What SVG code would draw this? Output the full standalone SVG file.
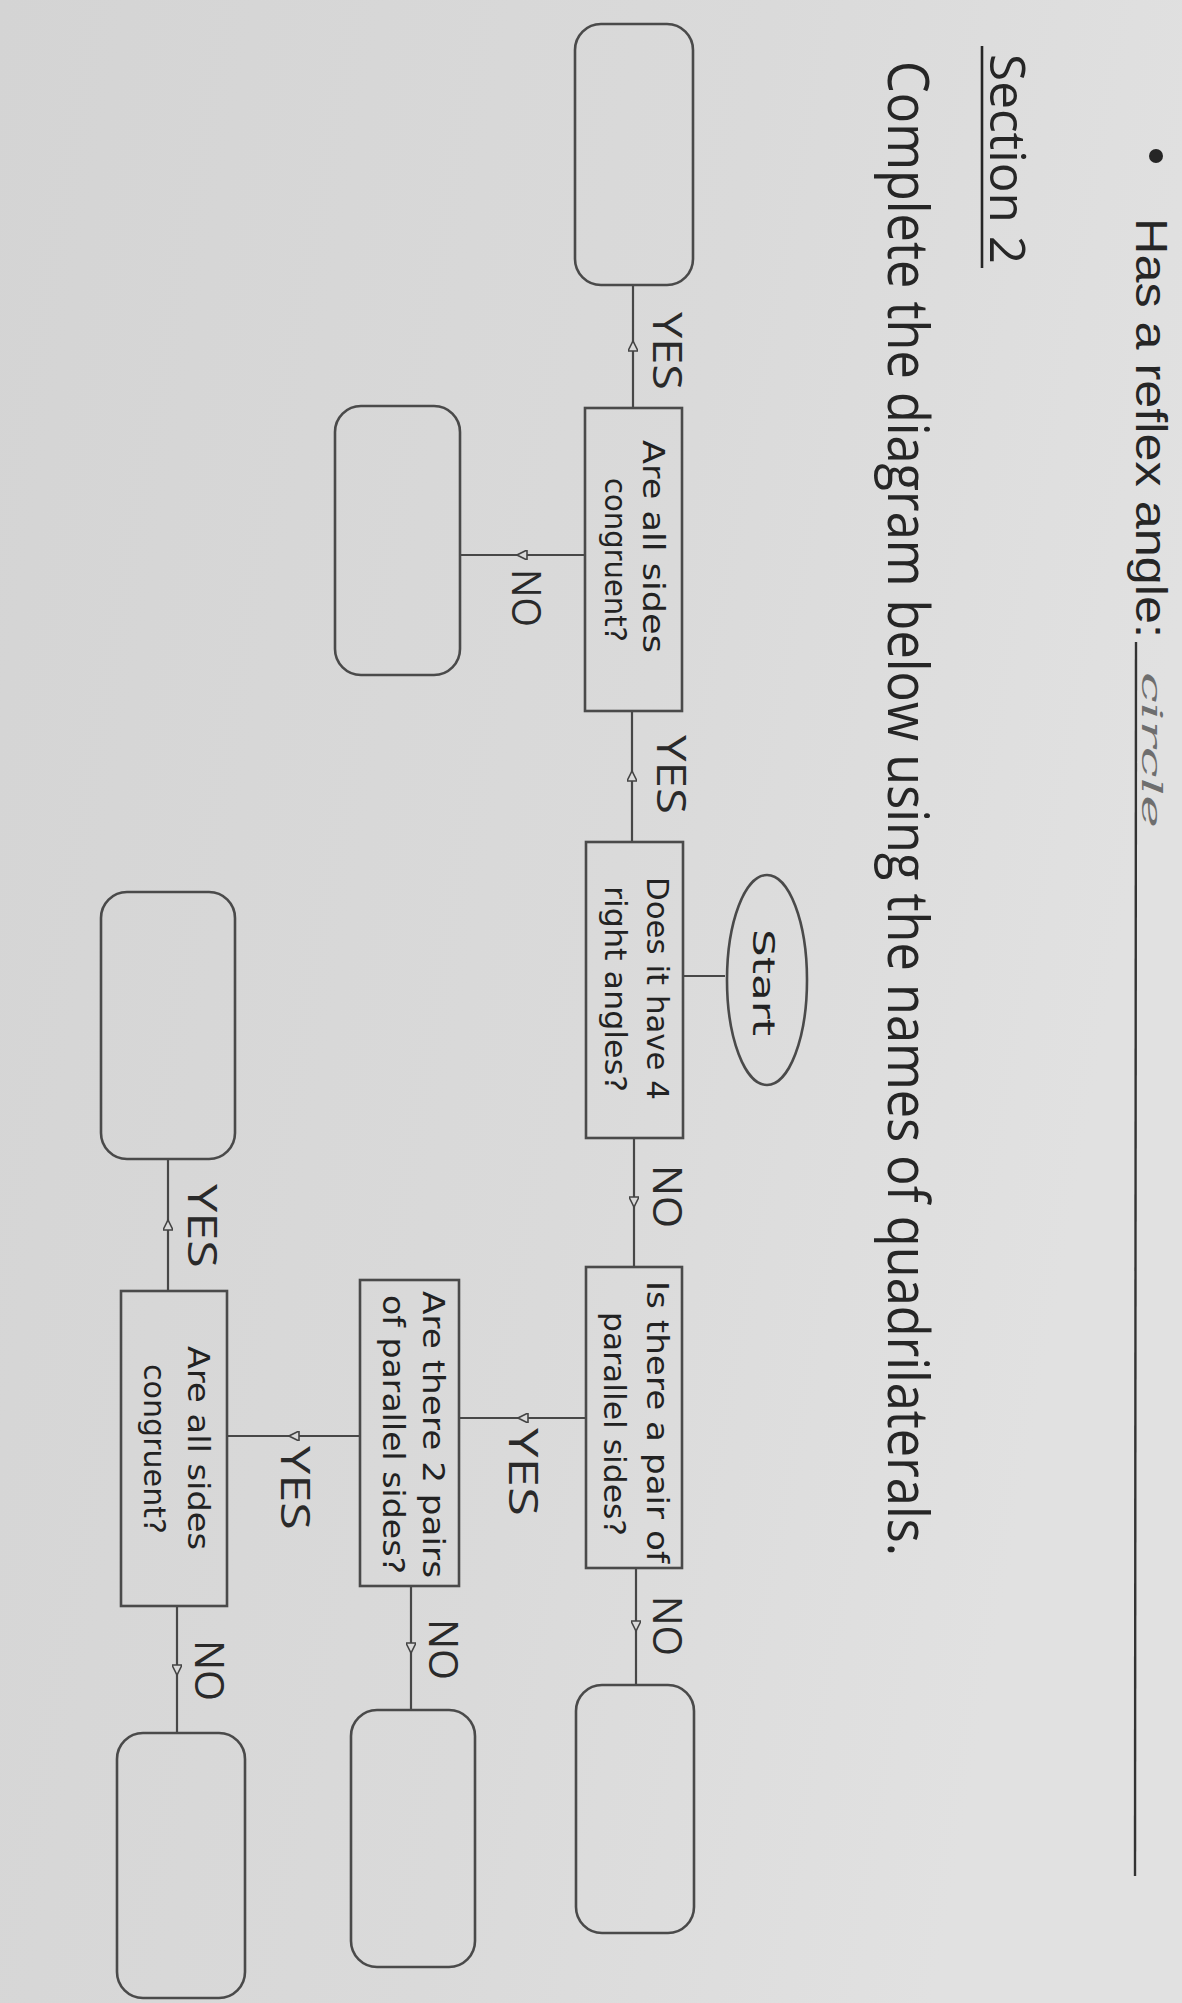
<svg xmlns="http://www.w3.org/2000/svg" width="1182" height="2003" viewBox="0 0 1182 2003">
  <defs>
    <linearGradient id="paper" x1="0" y1="0" x2="1" y2="0.3">
      <stop offset="0" stop-color="#d4d4d4"/>
      <stop offset="0.6" stop-color="#dadada"/>
      <stop offset="1" stop-color="#e1e1e1"/>
    </linearGradient>
    <marker id="tri" viewBox="0 0 10 10" refX="5" refY="5" markerWidth="13" markerHeight="10" markerUnits="userSpaceOnUse" orient="auto">
      <path d="M0,0 L10,5 L0,10 Z" fill="#dadada" stroke="#444" stroke-width="1.6"/>
    </marker>
    <style>
      .box { fill: none; stroke: #4a4a4a; stroke-width: 2.6; }
      .term { fill: none; stroke: #4a4a4a; stroke-width: 2.6; }
      .conn { fill: none; stroke: #474747; stroke-width: 2.2; marker-mid: url(#tri); }
      .plain { fill: none; stroke: #474747; stroke-width: 2.2; }
      .hdr { font-family: "Open Sans", "Liberation Sans", sans-serif; fill: #262626; }
      .q { font-family: "DejaVu Sans", "Noto Sans", sans-serif; font-size: 30px; fill: #222; }
      .lbl { font-family: "Open Sans", "Liberation Sans", sans-serif; font-size: 40px; fill: #2a2a2a; }
      .hand { font-family: "DejaVu Serif", serif; font-style: italic; font-size: 28px; fill: #6e6e6e; }
    </style>
  </defs>
  <rect x="0" y="0" width="1182" height="2003" fill="url(#paper)"/>

  <g transform="translate(1182 0) rotate(90)">
    <g id="header">
      <circle cx="156" cy="26" r="7" fill="#262626"/>
      <text x="218" y="46" font-family="Liberation Sans, Arial, sans-serif" font-size="44" fill="#262626" textLength="420" lengthAdjust="spacingAndGlyphs">Has a reflex angle:</text>
      <line x1="642" y1="46" x2="1876" y2="47" stroke="#333" stroke-width="2.4"/>
      <text class="hand" x="672" y="40" textLength="156" lengthAdjust="spacingAndGlyphs">circle</text>
      <text class="hdr" x="54" y="192" font-size="50" textLength="210" lengthAdjust="spacingAndGlyphs">Section 2</text>
      <line x1="46" y1="200" x2="268" y2="200" stroke="#262626" stroke-width="2.6"/>
      <text class="hdr" x="61" y="294" font-size="56" textLength="1495" lengthAdjust="spacingAndGlyphs">Complete the diagram below using the names of quadrilaterals.</text>
    </g>

    <g id="connectors">
      <path class="plain" d="M976,457 L976,499"/>
      <path class="conn" d="M842,550 L776,550 L711,550"/>
      <path class="conn" d="M408,549 L346,549 L285,549"/>
      <path class="conn" d="M555,597 L555,660 L555,722"/>
      <path class="conn" d="M1138,548 L1202,548 L1267,548"/>
      <path class="conn" d="M1568,546 L1626,546 L1685,546"/>
      <path class="conn" d="M1418,596 L1418,659 L1418,723"/>
      <path class="conn" d="M1586,771 L1648,771 L1710,771"/>
      <path class="conn" d="M1436,822 L1436,888 L1436,955"/>
      <path class="conn" d="M1606,1005 L1670,1005 L1733,1005"/>
      <path class="conn" d="M1291,1014 L1225,1014 L1159,1014"/>
      <text class="lbl" x="735" y="525" textLength="79" lengthAdjust="spacingAndGlyphs">YES</text>
      <text class="lbl" x="312" y="529" textLength="78" lengthAdjust="spacingAndGlyphs">YES</text>
      <text class="lbl" x="569" y="670" textLength="58" lengthAdjust="spacingAndGlyphs">NO</text>
      <text class="lbl" x="1165" y="529" textLength="63" lengthAdjust="spacingAndGlyphs">NO</text>
      <text class="lbl" x="1596" y="529" textLength="60" lengthAdjust="spacingAndGlyphs">NO</text>
      <text class="lbl" x="1428" y="673" textLength="88" lengthAdjust="spacingAndGlyphs">YES</text>
      <text class="lbl" x="1619" y="753" textLength="61" lengthAdjust="spacingAndGlyphs">NO</text>
      <text class="lbl" x="1446" y="901" textLength="84" lengthAdjust="spacingAndGlyphs">YES</text>
      <text class="lbl" x="1640" y="987" textLength="61" lengthAdjust="spacingAndGlyphs">NO</text>
      <text class="lbl" x="1184" y="994" textLength="84" lengthAdjust="spacingAndGlyphs">YES</text>
    </g>

    <g id="start">
      <ellipse class="term" cx="980" cy="415" rx="105" ry="40"/>
      <text class="q" x="929" y="429" font-size="38" textLength="107" lengthAdjust="spacingAndGlyphs">Start</text>
    </g>
    <g id="q-right-angles">
      <rect class="box" x="842" y="499" width="296" height="97"/>
      <text class="q" x="877" y="535" textLength="223" lengthAdjust="spacingAndGlyphs">Does it have 4</text>
      <text class="q" x="886" y="577" textLength="206" lengthAdjust="spacingAndGlyphs">right angles?</text>
    </g>
    <g id="q-congruent-1">
      <rect class="box" x="408" y="500" width="303" height="97"/>
      <text class="q" x="440" y="539" textLength="213" lengthAdjust="spacingAndGlyphs">Are all sides</text>
      <text class="q" x="478" y="577" textLength="164" lengthAdjust="spacingAndGlyphs">congruent?</text>
    </g>
    <g id="answer-a">
      <rect class="box" x="24" y="489" width="261" height="118" rx="26"/>
    </g>
    <g id="answer-b">
      <rect class="box" x="406" y="722" width="269" height="125" rx="26"/>
    </g>
    <g id="q-one-pair">
      <rect class="box" x="1267" y="500" width="301" height="96"/>
      <text class="q" x="1281" y="535" textLength="282" lengthAdjust="spacingAndGlyphs">Is there a pair of</text>
      <text class="q" x="1312" y="578" textLength="224" lengthAdjust="spacingAndGlyphs">parallel sides?</text>
    </g>
    <g id="answer-f">
      <rect class="box" x="1685" y="488" width="248" height="118" rx="26"/>
    </g>
    <g id="q-two-pairs">
      <rect class="box" x="1280" y="723" width="306" height="99"/>
      <text class="q" x="1291" y="759" textLength="287" lengthAdjust="spacingAndGlyphs">Are there 2 pairs</text>
      <text class="q" x="1295" y="799" textLength="279" lengthAdjust="spacingAndGlyphs">of parallel sides?</text>
    </g>
    <g id="answer-h">
      <rect class="box" x="1710" y="707" width="257" height="124" rx="26"/>
    </g>
    <g id="q-congruent-2">
      <rect class="box" x="1291" y="955" width="315" height="106"/>
      <text class="q" x="1346" y="994" textLength="204" lengthAdjust="spacingAndGlyphs">Are all sides</text>
      <text class="q" x="1364" y="1038" textLength="170" lengthAdjust="spacingAndGlyphs">congruent?</text>
    </g>
    <g id="answer-j">
      <rect class="box" x="1733" y="937" width="265" height="128" rx="26"/>
    </g>
    <g id="answer-k">
      <rect class="box" x="892" y="947" width="267" height="134" rx="26"/>
    </g>
  </g>
</svg>
